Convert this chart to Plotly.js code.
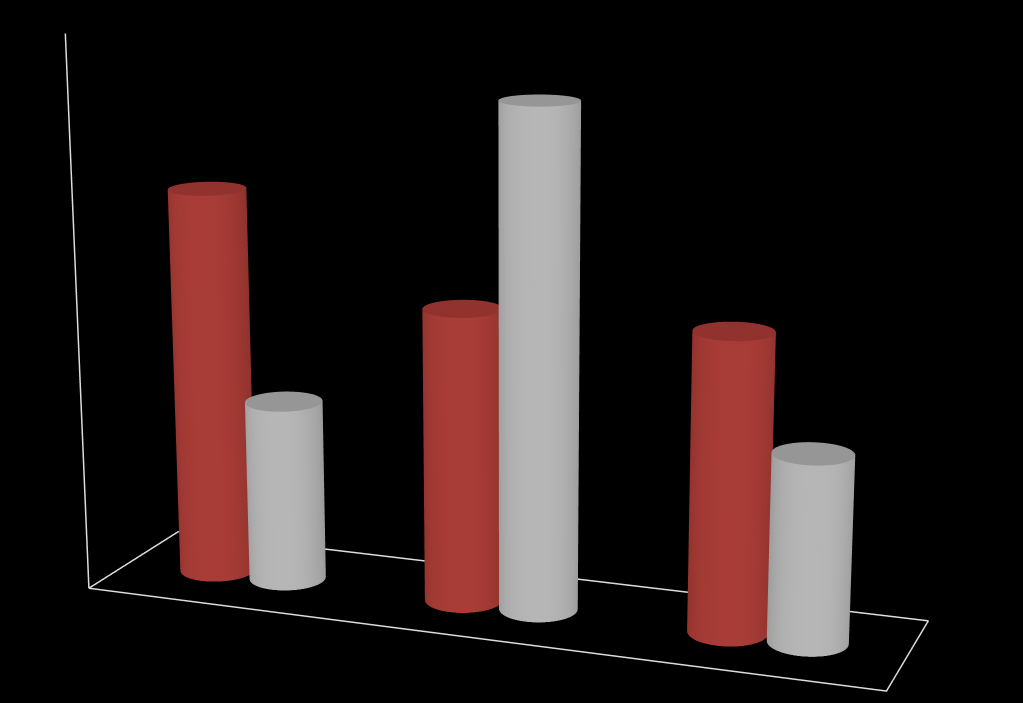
<!DOCTYPE html>
<html>
<head>
<meta charset="utf-8">
<script src="https://cdn.plot.ly/plotly-3.0.1.min.js"></script>
<style>
  html, body { margin: 0; padding: 0; background: #000; overflow: hidden; width: 1023px; height: 703px; }
  /* plot is drawn 3x larger and centred, so the window sees a narrow field of view */
  #chart { position: absolute; left: -1023px; top: -703px; width: 3069px; height: 2109px; }
</style>
</head>
<body>
<div id="chart"></div>
<script>
// data
var categories = ['Group 1', 'Group 2', 'Group 3'];
var redValues = [79, 59, 59];
var grayValues = [37, 100, 37];
var seriesNames = ['Series 1', 'Series 2'];

var zMax = 111;
var radius = 0.143;
var offset = 0.145;
var depth = 0.36;
var segs = 64;

// build one cylinder mesh standing on the floor at (cx, cy)
function cylinder(cx, cy, h, sideColor, capColor, name) {
  var x = [], y = [], z = [], i = [], j = [], k = [], fc = [];
  var s;
  for (s = 0; s < segs; s++) {
    var a = 2 * Math.PI * s / segs;
    var px = cx + radius * Math.cos(a), py = cy + radius * Math.sin(a);
    x.push(px, px); y.push(py, py); z.push(0, h);
  }
  for (s = 0; s < segs; s++) {
    var b0 = 2 * s, t0 = 2 * s + 1;
    var b1 = 2 * ((s + 1) % segs), t1 = b1 + 1;
    i.push(b0, t0); j.push(b1, b1); k.push(t0, t1);
    fc.push(sideColor, sideColor);
  }
  // top cap, separate vertices so it shades flat
  var base = x.length;
  x.push(cx); y.push(cy); z.push(h);
  for (s = 0; s < segs; s++) {
    var a2 = 2 * Math.PI * s / segs;
    x.push(cx + radius * Math.cos(a2)); y.push(cy + radius * Math.sin(a2)); z.push(h);
  }
  for (s = 0; s < segs; s++) {
    i.push(base); j.push(base + 1 + s); k.push(base + 1 + (s + 1) % segs);
    fc.push(capColor);
  }
  return {
    type: 'mesh3d', x: x, y: y, z: z, i: i, j: j, k: k,
    facecolor: fc, flatshading: false, name: name, hoverinfo: 'name+z',
    lighting: { ambient: 0.8, diffuse: 0.28, specular: 0.04, roughness: 0.8, fresnel: 0 },
    lightposition: { x: 10000, y: -100000, z: 0 },
    showscale: false
  };
}

var traces = [];
categories.forEach(function (c, n) {
  traces.push(cylinder(n + 0.5 - offset, 0, redValues[n], 'rgb(178,62,56)', 'rgb(182,62,57)', seriesNames[0]));
  traces.push(cylinder(n + 0.5 + offset, 0, grayValues[n], 'rgb(192,192,192)', 'rgb(188,188,188)', seriesNames[1]));
});

// floor outline and vertical axis line
var x0 = 0, x1 = categories.length, y0 = -depth, y1 = depth;
traces.push({
  type: 'scatter3d', mode: 'lines', hoverinfo: 'skip', showlegend: false,
  x: [x0, x1, x1, x0, x0, x0],
  y: [y0, y0, y1, y1, y0, y0],
  z: [0, 0, 0, 0, 0, zMax],
  line: { color: '#dcdcdc', width: 3 }
});

var hidden = {
  showgrid: false, zeroline: false, showline: false, showticklabels: false,
  showbackground: false, showspikes: false, ticks: '', title: { text: '' }
};

var layout = {
  width: 3069, height: 2109,
  paper_bgcolor: '#000',
  margin: { l: 0, r: 0, t: 0, b: 0 },
  showlegend: false,
  scene: {
    bgcolor: '#000',
    xaxis: Object.assign({ range: [x0, x1] }, hidden),
    yaxis: Object.assign({ range: [y0, y1] }, hidden),
    zaxis: Object.assign({ range: [0, zMax] }, hidden),
    aspectmode: 'manual',
    aspectratio: { x: 1.5, y: depth, z: 1.031 },
    camera: {
      eye: { x: 1.524, y: -4.124, z: 1.060 },
      center: { x: 0.018, y: 0.007, z: -0.040 },
      up: { x: 0, y: 0, z: 1 }
    }
  }
};

Plotly.newPlot('chart', traces, layout, { displayModeBar: false });
</script>
</body>
</html>
